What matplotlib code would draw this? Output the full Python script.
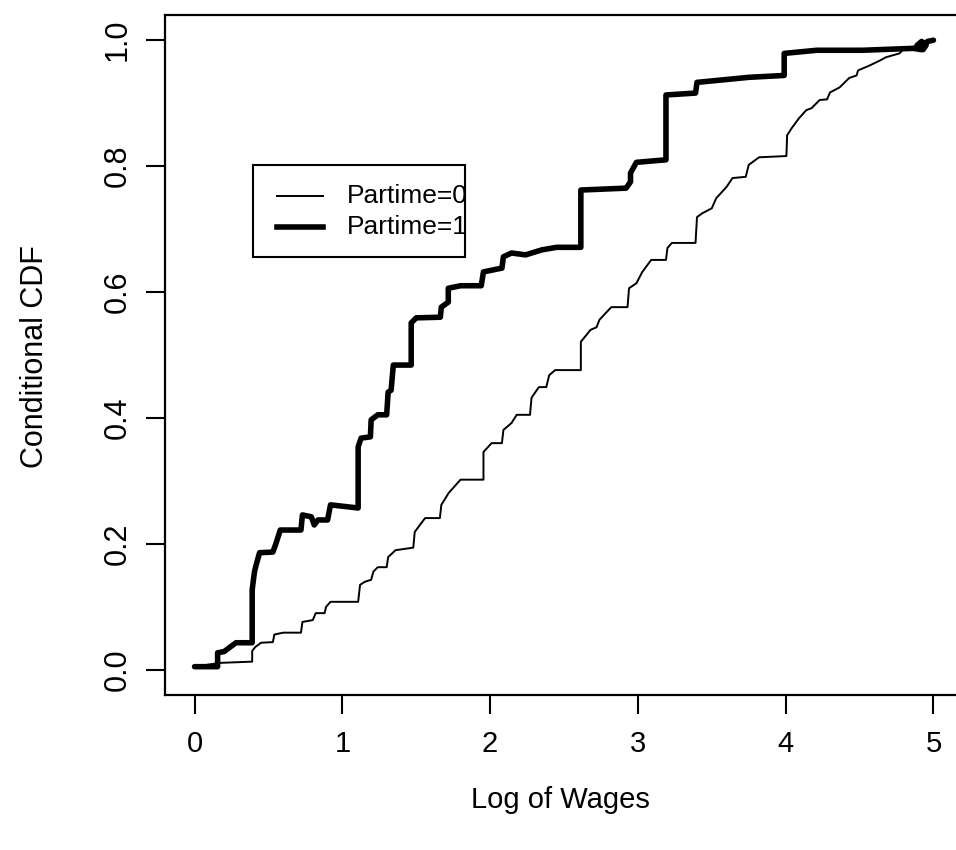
import matplotlib
matplotlib.use("Agg")
import matplotlib.pyplot as plt
from matplotlib.patches import Rectangle
from matplotlib.lines import Line2D

plt.rcParams['font.family'] = ['Liberation Sans', 'DejaVu Sans']

# Estimated conditional CDF of log wages, full-time workers (Partime=0)
wage_full = [0.00, 0.17, 0.39, 0.39, 0.41, 0.45, 0.53, 0.54, 0.60, 0.72, 0.73, 0.80,
             0.82, 0.88, 0.89, 0.92, 1.107, 1.12, 1.154, 1.195, 1.21, 1.24, 1.30,
             1.31, 1.36, 1.48, 1.49, 1.56, 1.66, 1.67, 1.72, 1.80, 1.955, 1.955,
             2.01, 2.08, 2.09, 2.145, 2.18, 2.27, 2.28, 2.33, 2.38, 2.40, 2.44,
             2.614, 2.614, 2.68, 2.72, 2.74, 2.82, 2.93, 2.94, 2.99, 3.03, 3.09,
             3.19, 3.20, 3.23, 3.39, 3.40, 3.435, 3.50, 3.53, 3.60, 3.64, 3.73,
             3.75, 3.82, 4.005, 4.01, 4.04, 4.09, 4.14, 4.175, 4.23, 4.28, 4.30,
             4.365, 4.43, 4.48, 4.49, 4.57, 4.64, 4.68, 4.77, 4.79, 4.84, 4.89,
             4.95, 4.98]
cdf_full = [0.005, 0.011, 0.013, 0.030, 0.036, 0.043, 0.044, 0.056, 0.059, 0.059,
            0.076, 0.079, 0.090, 0.090, 0.100, 0.108, 0.108, 0.135, 0.140, 0.143,
            0.156, 0.163, 0.163, 0.179, 0.190, 0.194, 0.219, 0.241, 0.241, 0.262,
            0.281, 0.302, 0.302, 0.346, 0.360, 0.360, 0.381, 0.392, 0.405, 0.405,
            0.432, 0.449, 0.449, 0.468, 0.476, 0.476, 0.521, 0.540, 0.544, 0.556,
            0.576, 0.576, 0.606, 0.614, 0.632, 0.651, 0.651, 0.670, 0.678, 0.678,
            0.719, 0.725, 0.733, 0.749, 0.767, 0.781, 0.783, 0.802, 0.814, 0.816,
            0.849, 0.860, 0.876, 0.889, 0.892, 0.905, 0.906, 0.917, 0.925, 0.940,
            0.944, 0.952, 0.960, 0.968, 0.973, 0.979, 0.984, 0.987, 0.992, 0.997,
            1.000]

# Estimated conditional CDF of log wages, part-time workers (Partime=1)
wage_part = [0.00, 0.156, 0.156, 0.20, 0.28, 0.39, 0.39, 0.405, 0.415, 0.44, 0.53,
             0.55, 0.58, 0.72, 0.73, 0.79, 0.81, 0.835, 0.90, 0.92, 1.107, 1.107,
             1.127, 1.19, 1.195, 1.24, 1.30, 1.31, 1.33, 1.345, 1.466, 1.466, 1.50,
             1.663, 1.67, 1.717, 1.717, 1.80, 1.94, 1.955, 2.08, 2.09, 2.145, 2.24,
             2.35, 2.45, 2.614, 2.614, 2.92, 2.95, 2.95, 2.99, 3.19, 3.19, 3.39,
             3.40, 3.75, 3.99, 3.99, 4.21, 4.52, 4.86, 4.93, 4.95, 4.92, 4.89,
             4.91, 4.96, 5.00]
cdf_part = [0.005, 0.005, 0.027, 0.029, 0.043, 0.043, 0.127, 0.155, 0.165, 0.186,
            0.187, 0.200, 0.222, 0.222, 0.246, 0.243, 0.230, 0.238, 0.238, 0.262,
            0.257, 0.354, 0.368, 0.370, 0.397, 0.405, 0.405, 0.441, 0.444, 0.484,
            0.484, 0.551, 0.559, 0.560, 0.576, 0.584, 0.606, 0.610, 0.610, 0.632,
            0.638, 0.656, 0.662, 0.659, 0.667, 0.671, 0.671, 0.762, 0.765, 0.775,
            0.789, 0.806, 0.810, 0.913, 0.916, 0.933, 0.941, 0.944, 0.979, 0.984,
            0.984, 0.987, 0.985, 0.992, 0.998, 0.992, 0.985, 0.998, 1.000]

x_ticks = [0, 1, 2, 3, 4, 5]
y_ticks = [0.0, 0.2, 0.4, 0.6, 0.8, 1.0]
y_tick_labels = ["0.0", "0.2", "0.4", "0.6", "0.8", "1.0"]
series_labels = ["Partime=0", "Partime=1"]

W, H = 956, 850
fig = plt.figure(figsize=(W / 100, H / 100), dpi=100)
ax = fig.add_axes([165 / W, 1 - 695 / H, (963 - 165) / W, 680 / H])

ax.plot(wage_full, cdf_full, color="black", lw=1.4, solid_joinstyle="round")
ax.plot(wage_part, cdf_part, color="black", lw=4.0, solid_joinstyle="round",
        solid_capstyle="round")

ax.set_xlim(-0.2, 5.2)
ax.set_ylim(-0.04, 1.04)
ax.set_xticks(x_ticks)
ax.set_xticklabels([str(t) for t in x_ticks], fontsize=21)
ax.set_yticks(y_ticks)
ax.set_yticklabels(y_tick_labels, rotation=90, va="center", fontsize=22)
ax.tick_params(axis="both", direction="out", length=14, width=1.5,
               colors="black")
ax.tick_params(axis="x", pad=11)
ax.tick_params(axis="y", pad=9)
for s in ax.spines.values():
    s.set_linewidth(1.6)

fig.text(560 / W, 1 - 800 / H, "Log of Wages", fontsize=21,
         ha="center", va="center")
fig.text(35 / W, 1 - 357 / H, "Conditional CDF", fontsize=22,
         ha="center", va="center", rotation=90)

# Legend box, drawn in figure pixels
def fx(px):
    return px / W

def fy(py):
    return 1 - py / H

for i, (lab, lw) in enumerate(zip(series_labels, [1.4, 4.0])):
    yy = 196 + i * 31
    fig.add_artist(Line2D([fx(277), fx(323)], [fy(yy), fy(yy)],
                          color="black", lw=lw, transform=fig.transFigure))
    fig.text(fx(347), fy(yy), lab, fontsize=19, ha="left", va="center")
fig.add_artist(Rectangle((fx(253), fy(257)), fx(465) - fx(253), fy(165) - fy(257),
                         transform=fig.transFigure, fill=False,
                         edgecolor="black", lw=1.5, zorder=5))

fig.savefig("out.png", dpi=100)
